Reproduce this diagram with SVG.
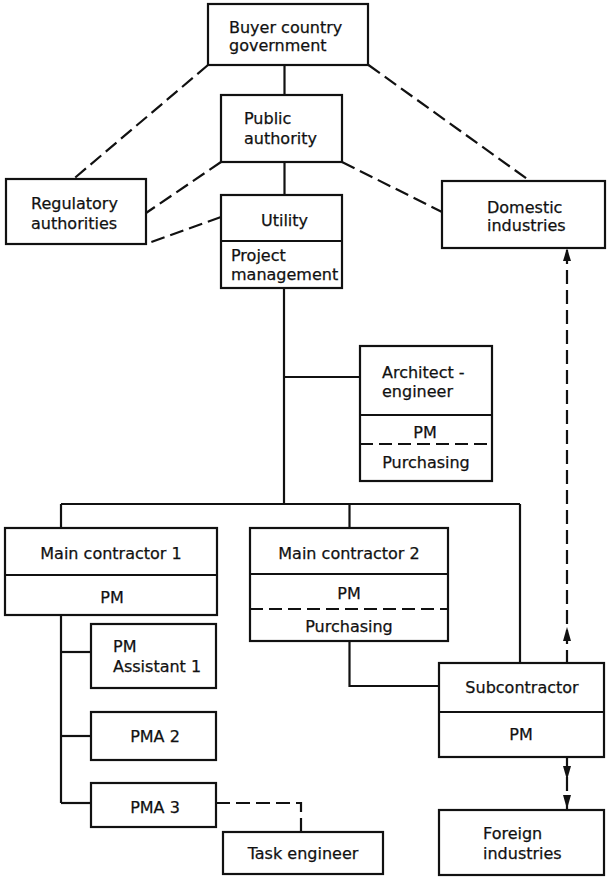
<svg xmlns="http://www.w3.org/2000/svg" width="607" height="877" viewBox="0 0 607 877">
  <style>
    .box { fill: #ffffff; stroke: #111111; stroke-width: 2.2; }
    .div { stroke: #111111; stroke-width: 2.2; fill: none; }
    .divd { stroke: #111111; stroke-width: 2.2; fill: none; stroke-dasharray: 13 6; }
    .ln { stroke: #111111; stroke-width: 2.2; fill: none; }
    .dl { stroke: #111111; stroke-width: 2.2; fill: none; stroke-dasharray: 14 6; }
    .ah { fill: #111111; stroke: none; }
    text { font-family: "DejaVu Sans", "Liberation Sans", sans-serif; font-size: 16px; fill: #111111; stroke: #111111; stroke-width: 0.25; }
    .c { text-anchor: middle; }
  </style>
  <rect width="607" height="877" fill="#ffffff"/>

  <!-- connectors -->
  <g id="connectors">
    <!-- solid reporting lines -->
    <path class="ln" d="M284.5 65 V95"/>
    <path class="ln" d="M284.5 162 V195"/>
    <path class="ln" d="M284 288 V504"/>
    <path class="ln" d="M284 377 H360"/>
    <path class="ln" d="M61 504 H520"/>
    <path class="ln" d="M61 504 V528"/>
    <path class="ln" d="M349.5 504 V528"/>
    <path class="ln" d="M520 504 V663"/>
    <path class="ln" d="M349.5 641 V686 H439"/>
    <path class="ln" d="M61 615 V803"/>
    <path class="ln" d="M61 652 H91"/>
    <path class="ln" d="M61 736 H91"/>
    <path class="ln" d="M61 803 H91"/>
    <!-- dashed liaison lines -->
    <path class="dl" d="M208 65 L73.5 179"/>
    <path class="dl" d="M368.5 65 L530 181"/>
    <path class="dl" d="M221 162 L146 213"/>
    <path class="dl" d="M342 162 L442 212"/>
    <path class="dl" d="M221 217 L146 244"/>
    <path class="dl" d="M216 803 H301 V832"/>
    <path class="dl" d="M567 250 V663"/>
    <path class="dl" d="M567 757 V810"/>
    <!-- arrowheads -->
    <polygon class="ah" points="567,248 571,261 563,261"/>
    <polygon class="ah" points="567,627 571,641 563,641"/>
    <polygon class="ah" points="567,780 571,766 563,766"/>
    <polygon class="ah" points="567,809 571,795 563,795"/>
  </g>

  <g id="buyer">
    <rect class="box" x="208" y="4" width="160" height="61"/>
    <text x="229" y="33">Buyer country</text>
    <text x="229" y="51">government</text>
  </g>

  <g id="public-authority">
    <rect class="box" x="221" y="95" width="121" height="67"/>
    <text x="244" y="124">Public</text>
    <text x="244" y="144">authority</text>
  </g>

  <g id="regulatory">
    <rect class="box" x="6" y="179" width="140" height="65"/>
    <text x="31" y="209">Regulatory</text>
    <text x="31" y="229">authorities</text>
  </g>

  <g id="utility">
    <rect class="box" x="221" y="195" width="121" height="93"/>
    <path class="div" d="M221 241 H342"/>
    <text class="c" x="284.5" y="226">Utility</text>
    <text x="231" y="261">Project</text>
    <text x="231" y="280">management</text>
  </g>

  <g id="domestic">
    <rect class="box" x="442" y="181" width="163" height="67"/>
    <text x="487" y="213">Domestic</text>
    <text x="487" y="231">industries</text>
  </g>

  <g id="architect">
    <rect class="box" x="360" y="346" width="132" height="135"/>
    <path class="div" d="M360 415 H492"/>
    <path class="divd" d="M360 444 H492"/>
    <text x="382" y="378">Architect -</text>
    <text x="382" y="397">engineer</text>
    <text class="c" x="425" y="438">PM</text>
    <text class="c" x="426" y="468">Purchasing</text>
  </g>

  <g id="main-contractor-1">
    <rect class="box" x="5" y="528" width="212" height="87"/>
    <path class="div" d="M5 575 H217"/>
    <text class="c" x="111" y="559">Main contractor 1</text>
    <text class="c" x="112" y="603">PM</text>
  </g>

  <g id="main-contractor-2">
    <rect class="box" x="250" y="528" width="198" height="113"/>
    <path class="div" d="M250 574 H448"/>
    <path class="divd" d="M250 609 H448"/>
    <text class="c" x="349" y="559">Main contractor 2</text>
    <text class="c" x="349" y="599">PM</text>
    <text class="c" x="349" y="632">Purchasing</text>
  </g>

  <g id="pm-assistant-1">
    <rect class="box" x="91" y="624" width="125" height="64"/>
    <text x="113" y="652">PM</text>
    <text x="113" y="672">Assistant 1</text>
  </g>

  <g id="pma-2">
    <rect class="box" x="91" y="712" width="125" height="48"/>
    <text class="c" x="155" y="742">PMA 2</text>
  </g>

  <g id="pma-3">
    <rect class="box" x="91" y="783" width="125" height="44"/>
    <text class="c" x="155" y="813">PMA 3</text>
  </g>

  <g id="task-engineer">
    <rect class="box" x="223" y="832" width="160" height="42"/>
    <text class="c" x="303" y="859">Task engineer</text>
  </g>

  <g id="subcontractor">
    <rect class="box" x="439" y="663" width="165" height="94"/>
    <path class="div" d="M439 712 H604"/>
    <text class="c" x="522" y="693">Subcontractor</text>
    <text class="c" x="521" y="740">PM</text>
  </g>

  <g id="foreign">
    <rect class="box" x="439" y="810" width="165" height="65"/>
    <text x="483" y="839">Foreign</text>
    <text x="483" y="859">industries</text>
  </g>
</svg>
